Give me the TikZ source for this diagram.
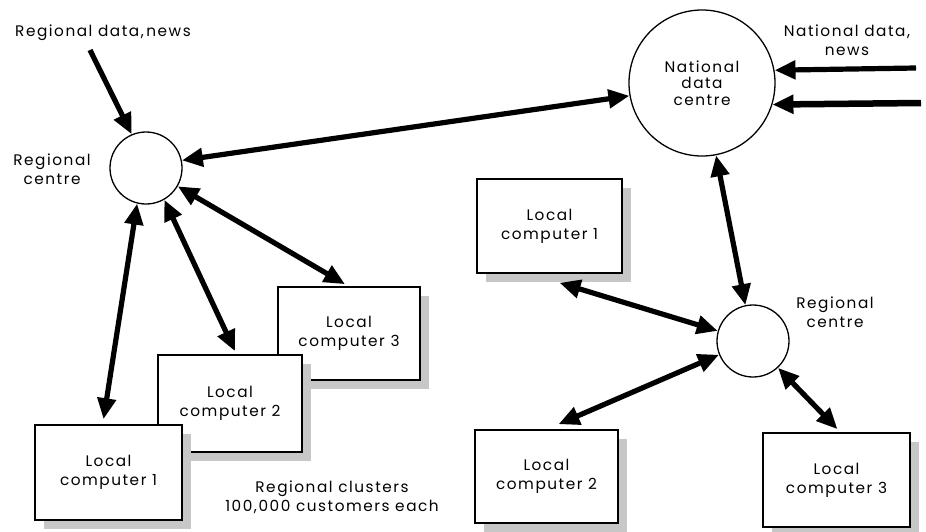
\documentclass[tikz,border=0pt]{standalone}
\usepackage{fontspec}
\setmainfont{Poppins}[LetterSpace=10]
\usetikzlibrary{arrows.meta,patterns,calc,shadows}
\tikzset{
 txt/.style={font=\fontsize{15.3}{19}\selectfont, align=center, inner sep=0pt},
 box/.style={txt, draw, line width=1.6pt, fill=white,
   drop shadow={shadow xshift=9pt, shadow yshift=-9pt, opacity=1, fill=black!22}},
 hub/.style={circle, draw, line width=1.3pt, fill=white, inner sep=0pt},
 link/.style={line width=5.2pt, -{Triangle[length=21pt,width=18pt]}},
 dlink/.style={line width=5.2pt, {Triangle[length=21pt,width=18pt]}-{Triangle[length=21pt,width=18pt]}},
}
\begin{document}
\begin{tikzpicture}[x=1pt,y=-1pt]
\useasboundingbox (0,0) rectangle (926,531);
% left cluster boxes (back to front)
\node[box, minimum width=142pt, minimum height=93pt] (lc3) at (349,333.5) {Local\\computer 3};
\node[box, minimum width=144pt, minimum height=97pt] (lc2) at (230,403.5) {Local\\computer 2};
\node[box, minimum width=147pt, minimum height=95pt] (lc1) at (108.5,472.5) {Local\\computer 1};
% right cluster boxes
\node[box, minimum width=145pt, minimum height=94pt] (rlc1) at (549.5,226) {Local\\computer 1};
\node[box, minimum width=143pt, minimum height=93pt] (rlc2) at (546.5,476.5) {Local\\computer 2};
\node[box, minimum width=147pt, minimum height=94pt] (rlc3) at (836.5,480) {Local\\computer 3};
% hubs
\node[hub, minimum size=72pt] (rc1) at (146,168) {};
\node[hub, minimum size=146pt, font=\fontsize{15.3}{16.5}\selectfont, align=center] (ndc) at (702,83) {National\\data\\centre};
\node[hub, minimum size=72pt] (rc2) at (753,341) {};
% labels
\node[txt] (rdn) at (103,33) {Regional data,\,news};
\node[txt] (rcl1) at (52,169) {Regional\\centre};
\node[txt] (ndn) at (847,40) {National data,\\news};
\node[txt] (rcl2) at (835,312) {Regional\\centre};
\node[txt] (clu) at (332,497) {Regional clusters\\100,000 customers each};
% free ends
\coordinate (rdnS) at (90,50);
\coordinate (nd1) at (916,68);
\coordinate (nd2) at (921,103);
% connectors
\draw[link] (rdnS) -- (rc1.113);
\draw[dlink] (rc1.12) -- (ndc.190);
\draw[dlink] (rc1.256) -- ($(lc1.north)+(-5,-5)$);
\draw[dlink] (rc1.300) -- ($(lc2.north)+(5,-3)$);
\draw[dlink] (rc1.330) -- ($(lc3.north)+(-4,-2)$);
\draw[link] (nd1) -- (ndc.10);
\draw[link, line width=6.5pt] (nd2) -- (ndc.-17);
\draw[dlink] (ndc.-79) -- (rc2.102);
\draw[dlink] (rc2.164) -- ($(rlc1.south)+(10,9)$);
\draw[dlink] (rc2.202) -- ($(rlc2.north)+(12,-5)$);
\draw[dlink] (rc2.-47) -- ($(rlc3.north)+(1,-3)$);
\end{tikzpicture}
\end{document}
